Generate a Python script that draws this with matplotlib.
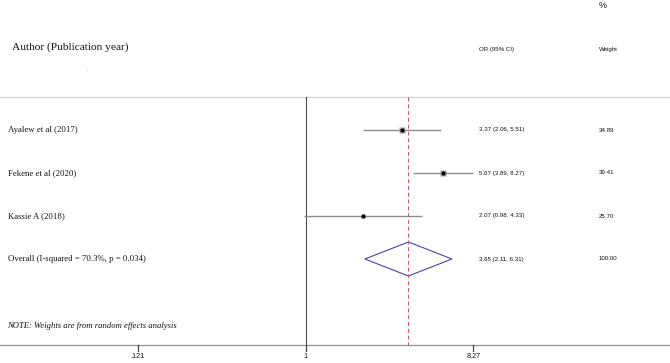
import numpy as np
import matplotlib
matplotlib.use("Agg")
import matplotlib.pyplot as plt

studies = ["Ayalew et al (2017)", "Fekene et al (2020)", "Kassie A (2018)"]
or_vals = [3.37, 5.67, 2.07]
ci_low = [2.06, 3.89, 0.98]
ci_high = [5.51, 8.27, 4.33]
weights = [34.89, 39.41, 25.70]
or_text = ["3.37 (2.06, 5.51)", "5.67 (3.89, 8.27)", "2.07 (0.98, 4.33)"]
weight_text = ["34.89", "39.41", "25.70"]
overall_label = "Overall (I-squared = 70.3%, p = 0.034)"
overall_or = 3.65
overall_low = 2.11
overall_high = 6.31
overall_text = "3.65 (2.11, 6.31)"
overall_weight = "100.00"
xticks = [0.121, 1, 8.27]
xtick_labels = [".121", "1", "8.27"]

W, H = 670, 363
fig = plt.figure(figsize=(W / 100, H / 100), dpi=100)
ax = fig.add_axes([0, 0, 1, 1])
ax.set_xscale("log")
# pixel layout: x=1 at px 305.5, 79.5 px per ln unit
x0, k = 305.5, 79.5
ax.set_xlim(np.exp(-x0 / k), np.exp((W - x0) / k))
ax.set_ylim(H, 0)
ax.axis("off")

def px(x):
    return np.exp((x - x0) / k)

serif = ["Liberation Serif", "DejaVu Serif"]
sans = ["Liberation Sans", "DejaVu Sans"]
tc = "#111111"

row_y = [130, 173, 216]
over_y = 259
top_line, base_line = 97, 344.5

# header
ax.text(px(12), 47, "Author (Publication year)", family=serif, fontsize=8.2,
        va="center", ha="left", color=tc)
ax.text(px(87), 70, "'", family=serif, fontsize=3, va="center", ha="center", color="#555555")
ax.text(px(599), 6, "%", family=sans, fontsize=6.5, va="center", ha="left", color=tc)
ax.text(px(479), 49, "OR (95% CI)", family=sans, fontsize=4.4, va="center", ha="left", color=tc)
ax.text(px(599), 49, "Weight", family=sans, fontsize=4.4, va="center", ha="left", color=tc)

# lines
ax.axhline(top_line, color="#d0d0d0", lw=0.9)
ax.axhline(base_line, color="#9a9a9a", lw=1.0)
ax.plot([1, 1], [top_line, base_line], color="#4a4a4a", lw=0.8)
ax.plot([overall_or, overall_or], [top_line, base_line], color="#c8506a", lw=0.7, ls=(0, (4, 3)))

# ticks
for t, lab in zip(xticks, xtick_labels):
    ax.plot([t, t], [base_line, base_line + 6.5], color="#444444", lw=0.9)
    ax.text(t, base_line + 12.5, lab, family=sans, fontsize=5.2, ha="center", va="center", color=tc)

# studies
for i, (s, o, lo, hi, w, ot, wt) in enumerate(zip(studies, or_vals, ci_low, ci_high, weights, or_text, weight_text)):
    y = row_y[i]
    ax.plot([lo, hi], [y, y], color="#8c8c8c", lw=1.0, solid_capstyle="butt")
    side = np.sqrt(w) * 0.62
    ax.plot([o], [y], marker="s", ms=side, color="#a0a0a0", mec="none", ls="none")
    ax.plot([o], [y], marker="o", ms=3.0, color="black", mec="none", ls="none")
    ax.text(px(8), y, s, family=serif, fontsize=6.3, va="center", ha="left", color=tc)
    ax.text(px(479), y, ot, family=sans, fontsize=4.4, va="center", ha="left", color=tc)
    ax.text(px(599), y, wt, family=sans, fontsize=4.4, va="center", ha="left", color=tc)

# overall diamond
dh = 17
ax.fill([overall_low, overall_or, overall_high, overall_or, overall_low],
        [over_y, over_y - dh, over_y, over_y + dh, over_y], facecolor="none",
        edgecolor="#4444aa", lw=0.8)
ax.text(px(8), over_y, overall_label, family=serif, fontsize=6.3, va="center", ha="left", color=tc)
ax.text(px(479), over_y, overall_text, family=sans, fontsize=4.4, va="center", ha="left", color=tc)
ax.text(px(599), over_y, overall_weight, family=sans, fontsize=4.4, va="center", ha="left", color=tc)

ax.text(px(7), 326, "NOTE: Weights are from random effects analysis", family=serif,
        style="italic", fontsize=6.2, va="center", ha="left", color=tc)

fig.savefig("out.png", dpi=100)
